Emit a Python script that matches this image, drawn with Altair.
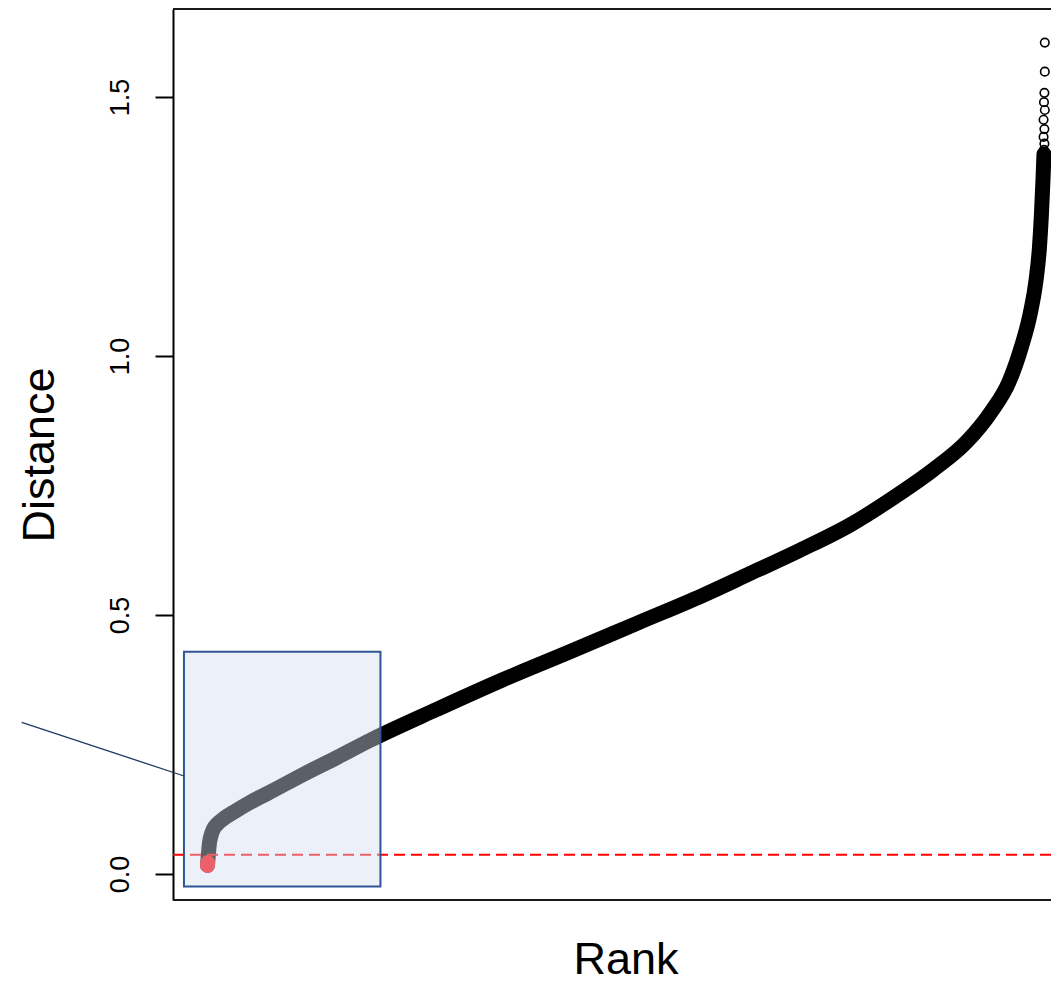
import altair as alt
import pandas as pd

# ---- data ----
rank = [0.0, 0.12, 0.24, 0.42, 0.72, 1.14, 1.85, 3.29, 5.08, 7.47, 11.42, 15.48,
        19.43, 27.44, 35.31, 43.32, 51.34, 59.23, 64.85, 70.83, 76.84, 82.79,
        86.73, 90.80, 93.67, 95.82, 97.25, 98.33, 99.04, 99.46, 99.70, 99.88, 100.0]
distance = [0.0165, 0.040, 0.060, 0.074, 0.087, 0.096, 0.106, 0.121, 0.138, 0.158,
            0.192, 0.225, 0.258, 0.318, 0.375, 0.429, 0.484, 0.538, 0.580, 0.625,
            0.674, 0.735, 0.780, 0.835, 0.892, 0.950, 1.015, 1.080, 1.145, 1.210,
            1.275, 1.340, 1.390]

below_rank = [0.0, 0.03]
below_distance = [0.0165, 0.022]

outlier_rank = [100.1, 100.1, 100.05, 100.0, 100.1, 99.95, 100.05, 99.95, 100.05, 100.0]
outlier_distance = [1.605, 1.549, 1.508, 1.490, 1.475, 1.456, 1.438, 1.423, 1.410, 1.398]

threshold = [0.037]
y_ticks = [0.0, 0.5, 1.0, 1.5]

# highlighted region (data coordinates)
box_x = (-2.81, 20.68)
box_y = (-0.024, 0.429)

FONT = "Liberation Sans"
W, H = 878, 891

x_scale = alt.Scale(domain=[-4.12, 100.84], nice=False, zero=False)
y_scale = alt.Scale(domain=[-0.0502, 1.6699], nice=False, zero=False)

x_axis = alt.Axis(labels=False, ticks=False, domain=False, grid=False,
                  title="Rank", titleFont=FONT, titleFontSize=45,
                  titleFontWeight="normal", titleColor="black",
                  titleX=452.5, titleY=82, titleAlign="center",
                  titleBaseline="bottom")
y_axis = alt.Axis(values=y_ticks, format=".1f", grid=False,
                  labelAngle=270, labelAlign="center", labelBaseline="alphabetic",
                  labelFont=FONT, labelFontSize=27, labelColor="black",
                  labelPadding=27, labelOverlap=False,
                  tickSize=18, tickWidth=2, tickColor="black",
                  domainColor="black", domainWidth=2,
                  title="Distance", titleFont=FONT, titleFontSize=45,
                  titleFontWeight="normal", titleColor="black",
                  titleAngle=270, titleAlign="center", titleBaseline="alphabetic",
                  titleX=-120, titleY=445.5)

main_df = pd.DataFrame({"rank": rank, "distance": distance})
below_df = pd.DataFrame({"rank": below_rank, "distance": below_distance})
out_df = pd.DataFrame({"rank": outlier_rank, "distance": outlier_distance})
thr_df = pd.DataFrame({"distance": threshold})
box_df = pd.DataFrame({"rank": [box_x[0]], "rank2": [box_x[1]],
                       "distance": [box_y[0]], "distance2": [box_y[1]]})
one = pd.DataFrame({"k": [0]})

X = alt.X("rank:Q", scale=x_scale, axis=x_axis)
Y = alt.Y("distance:Q", scale=y_scale, axis=y_axis)

curve = alt.Chart(main_df).mark_line(
    color="black", strokeWidth=15, strokeCap="round", strokeJoin="round",
    interpolate="monotone"
).encode(x=X, y=Y)

below = alt.Chart(below_df).mark_line(
    color="#ff0000", strokeWidth=15, strokeCap="round"
).encode(x=X, y=Y)

outliers = alt.Chart(out_df).mark_point(
    shape="circle", filled=False, size=72, strokeWidth=1.6, color="black", opacity=1
).encode(x=X, y=Y)

thr = alt.Chart(thr_df).mark_rule(
    color="#ff0000", strokeWidth=2, strokeDash=[11, 6]
).encode(y=Y)

box = alt.Chart(box_df).mark_rect(
    fill="#D4DEF2", fillOpacity=0.43, stroke="#2F5597", strokeWidth=2, strokeOpacity=1
).encode(x=X, x2="rank2:Q", y=Y, y2="distance2:Q")

connector = alt.Chart(one).mark_rule(color="#1F3864", strokeWidth=1.3).encode(
    x=alt.value(-151.3), y=alt.value(713.3), x2=alt.value(11), y2=alt.value(767)
)

top_border = alt.Chart(one).mark_rule(color="#1a1a1a", strokeWidth=2).encode(
    x=alt.value(0), x2=alt.value(W), y=alt.value(0)
)
bottom_border = alt.Chart(one).mark_rule(color="#1a1a1a", strokeWidth=2).encode(
    x=alt.value(0), x2=alt.value(W), y=alt.value(H)
)

chart = alt.layer(
    curve, below, outliers, thr, box, connector, top_border, bottom_border
).properties(
    width=W, height=H,
    autosize=alt.AutoSizeParams(type="none"),
    padding={"left": 165, "top": 1, "right": 0, "bottom": 82},
    background="white",
).configure_view(stroke=None)

chart.save("out.html", embed_options={"renderer": "svg", "actions": False})
